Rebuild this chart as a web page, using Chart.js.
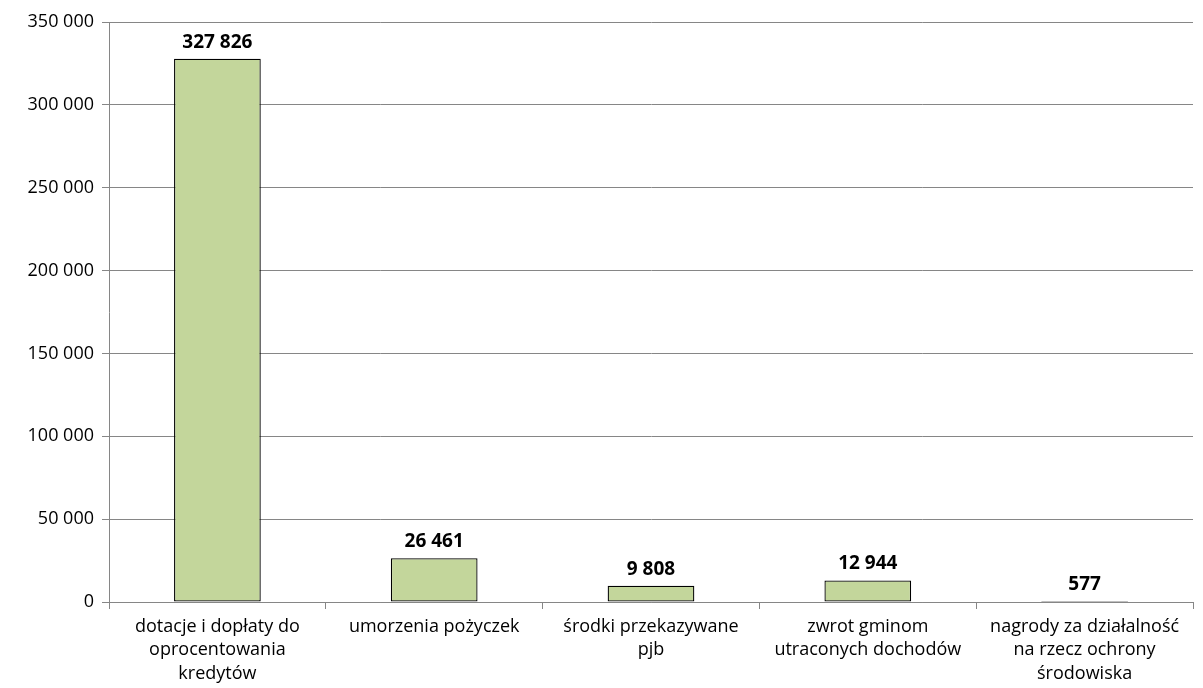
<!DOCTYPE html>
<html>
<head>
<meta charset="utf-8">
<script src="https://cdn.jsdelivr.net/npm/chart.js@4"></script>
<style>
  html, body { margin: 0; padding: 0; background: #fff; }
  #wrap { width: 1203px; height: 688px; }
</style>
</head>
<body>
<div id="wrap"><canvas id="canvas"></canvas></div>
<script>
var categories = [
  ['dotacje i dopłaty do', 'oprocentowania', 'kredytów'],
  ['umorzenia pożyczek'],
  ['środki przekazywane', 'pjb'],
  ['zwrot gminom', 'utraconych dochodów'],
  ['nagrody za działalność', 'na rzecz ochrony', 'środowiska']
];
var values = [327826, 26461, 9808, 12944, 577];
var yTicks = [0, 50000, 100000, 150000, 200000, 250000, 300000, 350000];

function fmt(v) {
  return String(v).replace(/\B(?=(\d{3})+(?!\d))/g, ' ');
}

var labelPlugin = {
  id: 'valueLabels',
  afterDatasetsDraw: function (chart) {
    var ctx = chart.ctx;
    var meta = chart.getDatasetMeta(0);
    ctx.save();
    ctx.font = 'bold 19px "Open Sans", sans-serif';
    ctx.fillStyle = '#000';
    ctx.textAlign = 'center';
    ctx.textBaseline = 'bottom';
    meta.data.forEach(function (bar, i) {
      ctx.fillText(fmt(values[i]), bar.x, bar.y - 7);
    });
    ctx.restore();
  }
};

var options = {
  type: 'bar',
  data: {
    labels: categories,
    datasets: [{
      data: values,
      backgroundColor: '#C3D69B',
      borderColor: '#000',
      borderWidth: 1.3,
      borderSkipped: false,
      categoryPercentage: 0.8,
      barPercentage: 0.5
    }]
  },
  options: {
    responsive: true,
    maintainAspectRatio: false,
    animation: false,
    layout: { padding: { top: 22, right: 10 } },
    plugins: { legend: { display: false }, tooltip: { enabled: false } },
    scales: {
      x: {
        grid: { drawOnChartArea: false, offset: true, tickLength: 7, color: '#868686' },
        border: { color: '#868686' },
        ticks: { color: '#000', font: { family: '"Open Sans", sans-serif', size: 18, lineHeight: 1.3 }, maxRotation: 0, padding: 6 },
        afterFit: function (s) { s.height = 86; }
      },
      y: {
        min: 0,
        max: 350000,
        afterBuildTicks: function (s) { s.ticks = yTicks.map(function (v) { return { value: v }; }); },
        grid: { color: '#868686', tickLength: 7 },
        border: { color: '#868686' },
        ticks: { color: '#000', font: { family: '"Open Sans", sans-serif', size: 18 }, padding: 8, callback: function (v) { return fmt(v); } },
        afterFit: function (s) { s.width = 109; }
      }
    }
  },
  plugins: [labelPlugin]
};

var ctx = document.getElementById('canvas').getContext('2d');
new Chart(ctx, options);
</script>
</body>
</html>
